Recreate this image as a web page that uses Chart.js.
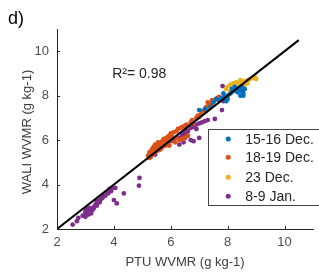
<!DOCTYPE html>
<html>
<head>
<meta charset="utf-8">
<script src="https://cdn.jsdelivr.net/npm/chart.js@4"></script>
<style>
  html, body { margin: 0; padding: 0; background: #fff; }
  canvas { display: block; }
</style>
</head>
<body>
<canvas id="c" width="319" height="275"></canvas>
<script>
// Series (PTU x, WALI y, g/kg)
const dec1516 = [
  [7.0,7.35],[7.2,7.4],[7.4,7.5],[7.5,7.7],[7.6,7.85],[7.7,7.8],[7.8,7.9],[7.9,7.95],
  [8.0,8.0],[8.1,8.1],[8.2,8.2],[8.3,8.3],[8.4,8.35],[8.5,8.2],[8.55,8.1],[8.5,8.4],
  [8.45,8.0],[8.35,8.15],[8.6,8.3],[8.25,8.4],[8.0,7.85],[7.85,8.1],[7.95,7.75],[8.55,8.0],
  [8.4,8.25],[8.15,8.3]
];
const dec1819 = [
  [5.2,5.3],[5.25,5.45],[5.3,5.5],[5.3,5.25],[5.35,5.6],[5.4,5.4],[5.4,5.7],[5.45,5.55],
  [5.5,5.75],[5.5,5.5],[5.55,5.65],[5.6,5.8],[5.6,5.55],[5.65,5.9],[5.7,5.7],[5.7,5.95],
  [5.75,5.85],[5.8,6.0],[5.8,5.75],[5.85,6.1],[5.9,5.9],[5.9,6.05],[5.95,6.2],[6.0,6.0],
  [6.0,6.3],[6.05,6.15],[5.35,5.35],[5.45,5.8],[5.55,5.9],[5.65,5.6],[5.25,5.2],[5.75,6.05],
  [5.85,5.8],[5.95,5.95],[5.3,5.4],[5.5,5.6],[5.7,5.8],[5.9,6.15],
  [6.1,6.35],[6.2,6.4],[6.25,6.5],[6.35,6.55],[6.4,6.6],[6.5,6.65],[6.55,6.7],[6.6,6.6],
  [6.7,6.8],[6.75,6.9],[6.8,6.75],[6.9,7.0],[6.95,7.1],[7.0,7.05],[7.05,7.15],
  [6.15,5.9],[6.3,6.0],[6.4,6.05],[6.5,6.1],[6.6,6.2],[6.2,6.1],[5.95,5.75],
  [7.1,7.3],[7.2,7.35],[7.25,7.5],[7.3,7.45],[7.35,7.6],[7.4,7.65],[7.45,7.55],[7.5,7.75],
  [7.55,7.8],[7.6,7.85],[7.65,7.9],[7.7,7.95],[7.3,7.7],[7.45,7.8]
];
const dec23 = [
  [8.0,8.4],[8.1,8.5],[8.2,8.55],[8.3,8.6],[8.4,8.55],[8.5,8.6],[8.6,8.65],[8.7,8.7],
  [8.8,8.75],[8.9,8.8],[9.0,8.75],[8.95,8.85],[8.6,8.5],[8.7,8.55],[8.1,8.2],[7.95,8.3],
  [8.05,8.05],[8.25,8.45],[8.45,8.7]
];
const jan89 = [
  [2.55,2.2],[2.7,2.35],[2.75,2.5],[2.9,2.6],[3.0,2.7],[3.0,2.55],[3.1,2.8],[3.15,2.75],
  [3.2,2.9],[3.25,2.85],[3.3,3.0],[3.35,3.1],[3.4,3.05],[3.45,3.2],[3.5,3.3],[3.55,3.35],
  [3.6,3.4],[3.7,3.5],[3.8,3.6],[3.9,3.7],[3.95,3.85],[4.05,3.85],[4.0,3.3],[4.1,3.15],
  [4.35,3.6],[4.88,3.95],[4.9,4.3],[3.1,2.65],[3.2,2.7],[3.3,2.95],[3.5,3.2],[3.05,2.9],
  [3.0,2.8],[3.15,2.95],[3.4,3.25],[3.6,3.5],[3.75,3.65],[3.85,3.8],
  [5.7,5.7],[5.9,5.8],[6.0,5.95],[6.1,6.0],[6.3,6.1],[6.4,6.2],[6.5,6.3],[6.6,6.4],
  [6.7,6.55],[6.8,6.6],[6.9,6.7],[7.0,6.75],[7.1,6.8],[7.2,6.85],[7.3,6.9],[7.55,6.95],
  [7.8,7.35],[6.5,6.1],[6.6,6.2],[6.7,6.0],[6.8,5.95],[6.3,5.8],[6.4,6.3],[6.55,6.45],
  [7.0,6.1],[5.45,5.35],[7.85,7.75],[7.82,8.43],[6.2,6.1],[6.45,5.9],[6.9,6.5]
];
const oneToOne = [[2, 2], [10.5, 10.5]];
const seriesNames = ['15-16 Dec.', '18-19 Dec.', '23 Dec.', '8-9 Jan.'];
const seriesColors = ['#0072BD', '#D95319', '#EDB120', '#7E2F8E'];
const xTicks = [2, 4, 6, 8, 10];
const yTicks = [2, 4, 6, 8, 10];
const r2Label = 'R\u00B2= 0.98';

const toPts = arr => arr.map(p => ({ x: p[0], y: p[1] }));
const FONT = '"Liberation Sans", Arial, sans-serif';

const extras = {
  id: 'extras',
  afterDraw(chart) {
    const ctx = chart.ctx;
    const xs = chart.scales.x, ys = chart.scales.y;
    const a = chart.chartArea;
    ctx.save();
    // inward ticks
    ctx.strokeStyle = '#262626';
    ctx.lineWidth = 1;
    ctx.beginPath();
    xTicks.forEach(v => {
      const px = Math.round(xs.getPixelForValue(v)) + 0.5;
      ctx.moveTo(px, a.bottom); ctx.lineTo(px, a.bottom - 3);
    });
    yTicks.forEach(v => {
      const py = Math.round(ys.getPixelForValue(v)) + 0.5;
      ctx.moveTo(a.left, py); ctx.lineTo(a.left + 3, py);
    });
    ctx.stroke();

    // panel letter
    ctx.fillStyle = '#000';
    ctx.font = '18px ' + FONT;
    ctx.textBaseline = 'alphabetic';
    ctx.textAlign = 'left';
    ctx.fillText('d)', 8, 24);

    // axis titles
    ctx.fillStyle = '#404040';
    ctx.font = '13px ' + FONT;
    ctx.textAlign = 'center';
    ctx.textBaseline = 'middle';
    ctx.fillText('PTU WVMR (g kg-1)', (a.left + a.right) / 2, 262);
    ctx.save();
    ctx.translate(27, (a.top + a.bottom) / 2 + 3);
    ctx.rotate(-Math.PI / 2);
    ctx.fillText('WALI WVMR (g kg-1)', 0, 0);
    ctx.restore();

    // R squared
    ctx.fillStyle = '#262626';
    ctx.font = '14px ' + FONT;
    ctx.textAlign = 'left';
    ctx.fillText(r2Label, xs.getPixelForValue(3.94), ys.getPixelForValue(8.98));

    // legend box
    const bx = xs.getPixelForValue(7.32), by = ys.getPixelForValue(6.5);
    const bb = ys.getPixelForValue(3.06);
    ctx.fillStyle = '#fff';
    ctx.fillRect(bx, by, chart.width - bx + 2, bb - by);
    ctx.strokeStyle = '#444';
    ctx.strokeRect(Math.round(bx) + 0.5, Math.round(by) + 0.5, chart.width, Math.round(bb - by));
    const rows = [6.05, 5.23, 4.33, 3.47];
    const mx = xs.getPixelForValue(8.02), tx = xs.getPixelForValue(8.62);
    ctx.font = '14px ' + FONT;
    seriesNames.forEach((name, i) => {
      const ry = ys.getPixelForValue(rows[i]);
      ctx.fillStyle = seriesColors[i];
      ctx.beginPath();
      ctx.arc(mx, ry, 2.5, 0, Math.PI * 2);
      ctx.fill();
      ctx.fillStyle = '#262626';
      ctx.fillText(name, tx, ry + 1);
    });
    ctx.restore();
  }
};

const scatterSets = [dec1516, dec1819, dec23, jan89].map((d, i) => ({
  type: 'scatter',
  label: seriesNames[i],
  data: toPts(d),
  backgroundColor: seriesColors[i],
  borderWidth: 0,
  pointRadius: 2.4,
  order: 2
}));

new Chart(document.getElementById('c'), {
  type: 'scatter',
  data: {
    datasets: [
      ...scatterSets,
      {
        type: 'line',
        label: '1:1',
        data: toPts(oneToOne),
        borderColor: '#000',
        borderWidth: 2,
        pointRadius: 0,
        fill: false,
        order: 1
      }
    ]
  },
  options: {
    responsive: false,
    animation: false,
    devicePixelRatio: 1,
    layout: { padding: { top: 29, right: 6, left: 0, bottom: 0 } },
    plugins: { legend: { display: false }, tooltip: { enabled: false } },
    scales: {
      x: {
        type: 'linear', min: 2, max: 11,
        afterBuildTicks: s => { s.ticks = xTicks.map(v => ({ value: v })); },
        afterFit: s => { s.height = 46; },
        grid: { display: false, drawTicks: false },
        border: { display: true, color: '#262626', width: 1 },
        ticks: { padding: 6, color: '#4d4d4d', font: { family: FONT, size: 13 } }
      },
      y: {
        type: 'linear', min: 2, max: 11,
        afterBuildTicks: s => { s.ticks = yTicks.map(v => ({ value: v })); },
        afterFit: s => { s.width = 57; },
        grid: { display: false, drawTicks: false },
        border: { display: true, color: '#262626', width: 1 },
        ticks: { padding: 8, color: '#4d4d4d', font: { family: FONT, size: 13 } }
      }
    }
  },
  plugins: [extras]
});
</script>
</body>
</html>
